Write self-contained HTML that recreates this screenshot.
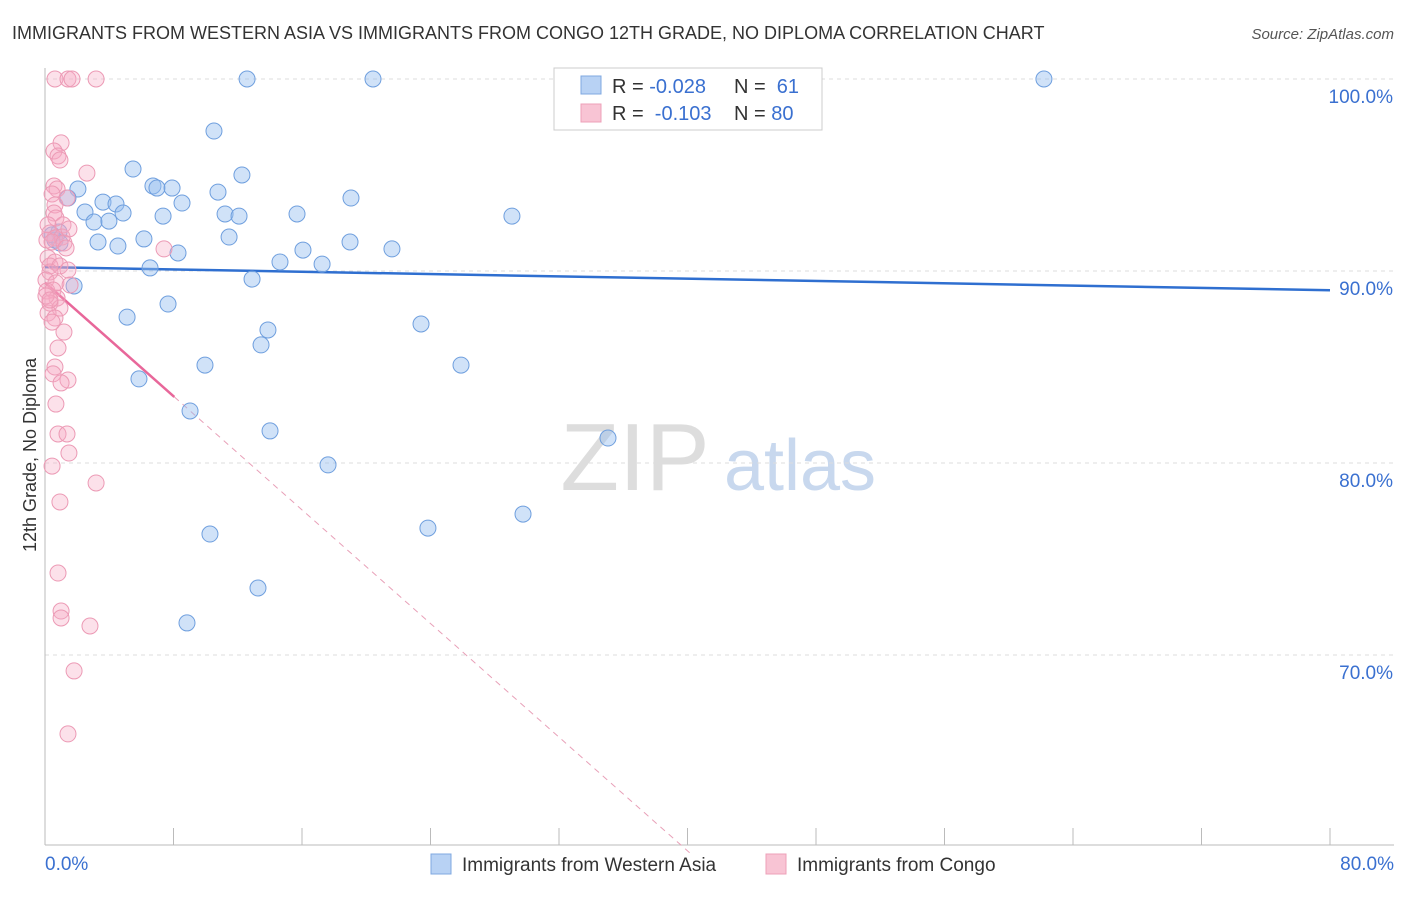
<!DOCTYPE html>
<html><head><meta charset="utf-8"><style>
body{margin:0;background:#fff;font-family:"Liberation Sans",sans-serif}
svg text{font-family:"Liberation Sans",sans-serif}
</style></head><body>
<svg id="c" width="1406" height="892" xmlns="http://www.w3.org/2000/svg">
<text x="12" y="39" font-size="18" fill="#333">IMMIGRANTS FROM WESTERN ASIA VS IMMIGRANTS FROM CONGO 12TH GRADE, NO DIPLOMA CORRELATION CHART</text>
<text x="1394" y="39" font-size="15" fill="#555" text-anchor="end" font-style="italic">Source: ZipAtlas.com</text>
<text x="36" y="455" font-size="18" fill="#333" transform="rotate(-90 36 455)" text-anchor="middle">12th Grade, No Diploma</text>
<g><text x="635" y="490" font-size="96" fill="#ddd" text-anchor="middle" font-family="Liberation Serif">ZIP</text><text x="800" y="490" font-size="72" fill="#c8d8ee" text-anchor="middle">atlas</text></g>
<g id="grid"></g><g id="axes"></g><g id="trend"></g><g id="pts"></g>
<g>
<rect x="554" y="68" width="268" height="62" fill="#fff" stroke="#ccc"/>
<rect x="581" y="76" width="20" height="18" fill="#b8d2f4" stroke="#7fa8e0"/>
<rect x="581" y="104" width="20" height="18" fill="#f8c4d4" stroke="#eea0b8"/>
<text x="612" y="93" font-size="20" fill="#333">R = <tspan fill="#3a70d0">-0.028</tspan></text>
<text x="734" y="93" font-size="20" fill="#333">N = <tspan fill="#3a70d0">&#160;61</tspan></text>
<text x="612" y="120" font-size="20" fill="#333">R = <tspan fill="#3a70d0">&#160;-0.103</tspan></text>
<text x="734" y="120" font-size="20" fill="#333">N = <tspan fill="#3a70d0">80</tspan></text>
</g>
<g>
<rect x="431" y="854" width="20" height="20" fill="#b8d2f4" stroke="#7fa8e0"/>
<text x="462" y="871" font-size="19" fill="#333">Immigrants from Western Asia</text>
<rect x="766" y="854" width="20" height="20" fill="#f8c4d4" stroke="#eea0b8"/>
<text x="797" y="871" font-size="19" fill="#333">Immigrants from Congo</text>
</g>
</svg>
<script>
const yTicks=[100,90,80,70];
const xTickLabels=["0.0%","80.0%"];
const bluePx=[[247,79],[373,79],[752,79],[1044,79],[214,131],[133,169],[242,175],[153,186],[157,188],[172,188],[78,189],[218,192],[351,198],[68,198],[182,203],[103,202],[116,204],[85,212],[123,213],[163,216],[225,214],[239,216],[297,214],[512,216],[94,222],[109,221],[59,232],[229,237],[144,239],[98,242],[118,246],[350,242],[392,249],[303,250],[178,253],[280,262],[322,264],[150,268],[252,279],[74,286],[168,304],[127,317],[421,324],[268,330],[261,345],[205,365],[461,365],[139,379],[190,411],[270,431],[608,438],[328,465],[523,514],[428,528],[210,534],[258,588],[187,623],[55,240],[52,235],[60,243]];
const pinkPx=[[55,79],[68,79],[72,79],[96,79],[61,143],[54,151],[58,156],[60,160],[87,173],[54,186],[57,189],[52,194],[67,198],[55,205],[54,213],[56,218],[63,225],[48,225],[50,233],[55,238],[62,237],[69,229],[47,240],[52,242],[64,243],[66,248],[164,249],[48,258],[55,262],[50,266],[60,266],[68,270],[50,272],[46,280],[56,283],[70,285],[47,291],[53,290],[57,298],[50,303],[60,308],[48,313],[55,318],[52,322],[64,332],[58,348],[55,367],[53,374],[68,380],[61,383],[56,404],[58,434],[67,434],[69,453],[52,466],[96,483],[60,502],[58,573],[61,611],[61,618],[90,626],[74,671],[68,734],[46,296],[50,300]];
// data values (x %, y %)
const blueX=bluePx.map(p=>+((p[0]-45)/1285*80).toFixed(2));
const blueY=bluePx.map(p=>+(100-(p[1]-79)/19.2).toFixed(2));
const pinkX=pinkPx.map(p=>+((p[0]-45)/1285*80).toFixed(2));
const pinkY=pinkPx.map(p=>+(100-(p[1]-79)/19.2).toFixed(2));
const blueTrend=[90.2,89.0];
const pinkTrend=[89.4,-0.74];
const X=v=>45+v/80*1285, Y=v=>79+(100-v)*19.2;
const NS="http://www.w3.org/2000/svg";
function mk(t,a,p){const e=document.createElementNS(NS,t);for(const k in a)e.setAttribute(k,a[k]);document.getElementById(p).appendChild(e);return e;}
yTicks.forEach(t=>{
 const l=mk('line',{x1:45,x2:1394,y1:Y(t),y2:Y(t),stroke:'#ddd','stroke-dasharray':'4,4'},'grid');
 
 
 const tx=mk('text',{x:1393,y:Y(t)+24,'font-size':19,fill:'#3a70d0','text-anchor':'end'},'grid');
 tx.textContent=t.toFixed(1)+'%';
 
 
});
mk('line',{x1:45,x2:45,y1:68,y2:845,stroke:'#bbb'},'axes');
mk('line',{x1:45,x2:1394,y1:845,y2:845,stroke:'#bbb'},'axes');
for(let i=0;i<=10;i++){const t=mk('line',{x1:X(i*8),x2:X(i*8),y1:828,y2:845,stroke:'#bbb'},'axes');}
[[0,'start',45],[1,'end',1394]].forEach(([i,a,x])=>{const t=mk('text',{x:x,y:870,'font-size':19,fill:'#3a70d0','text-anchor':a},'axes');t.textContent=xTickLabels[i];});
blueX.forEach((x,i)=>{const c=mk('circle',{cx:X(x),cy:Y(blueY[i]),r:8,fill:'rgba(150,190,240,0.45)',stroke:'#6f9fde','stroke-width':1},'pts');});
pinkX.forEach((x,i)=>{const c=mk('circle',{cx:X(x),cy:Y(pinkY[i]),r:8,fill:'rgba(245,170,195,0.35)',stroke:'#ec9ab5','stroke-width':1},'pts');});
let l=mk('line',{x1:X(0),y1:Y(blueTrend[0]),x2:X(80),y2:Y(blueTrend[1]),stroke:'#2f6fd0','stroke-width':2.5},'trend');


const pe=8.05, pd=40.2;
l=mk('line',{x1:X(0),y1:Y(pinkTrend[0]),x2:X(pe),y2:Y(pinkTrend[0]+pinkTrend[1]*pe),stroke:'#e8679a','stroke-width':2.5},'trend');


l=mk('line',{x1:X(pe),y1:Y(pinkTrend[0]+pinkTrend[1]*pe),x2:X(pd),y2:Y(pinkTrend[0]+pinkTrend[1]*pd),stroke:'#e8a0b8','stroke-width':1,'stroke-dasharray':'6,5'},'trend');


</script>
</body></html>
